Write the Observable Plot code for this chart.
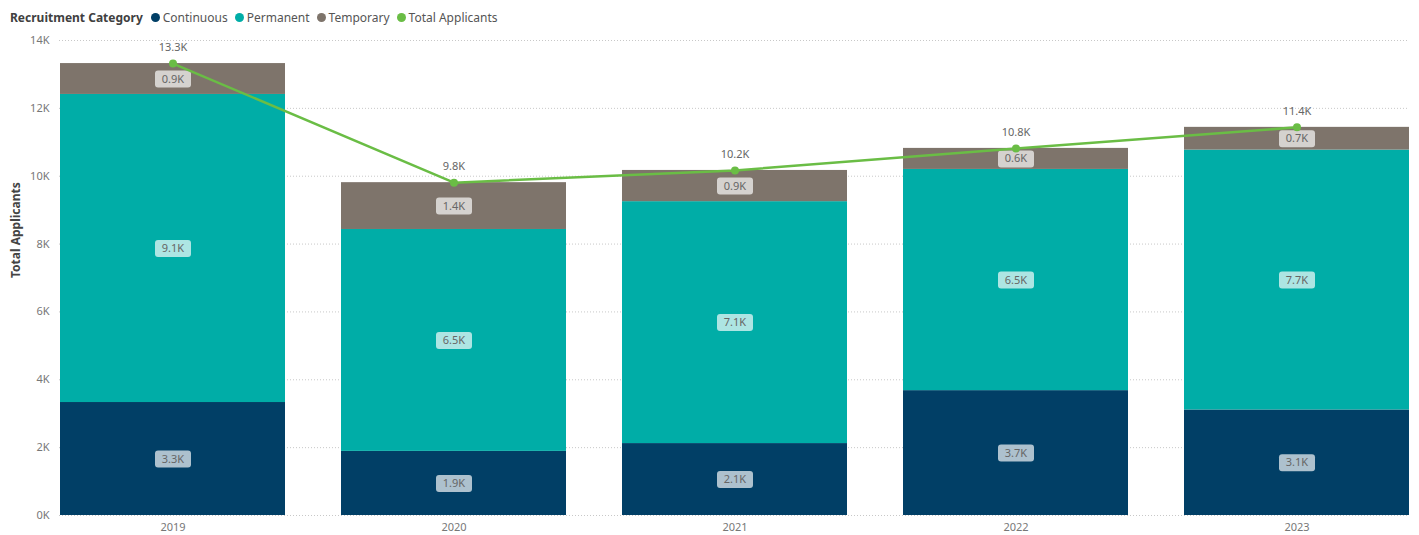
<!DOCTYPE html>
<html>
<head>
<meta charset="utf-8">
<script src="https://cdn.jsdelivr.net/npm/d3@7"></script>
<script src="https://cdn.jsdelivr.net/npm/@observablehq/plot@0.6"></script>
<style>
  body { margin: 0; background: #fff; font-family: "Segoe UI", "Noto Sans", sans-serif; }
  #legend { height: 30px; display: flex; align-items: center; padding-left: 10px; font-size: 12px; color: #555; box-sizing: border-box; padding-top: 4px; }
  #legend b { color: #404040; margin-right: 8px; }
  #legend span.item { display: inline-flex; align-items: center; margin-right: 7px; }
  #legend i { display: inline-block; width: 9px; height: 9px; border-radius: 50%; margin-right: 3px; }
  svg { display: block; }
</style>
</head>
<body>
<div id="legend"></div>
<div id="chart"></div>
<script>
const years = ["2019", "2020", "2021", "2022", "2023"];
const categories = ["Continuous", "Permanent", "Temporary"];
const continuous = [3330, 1890, 2120, 3680, 3110];
const permanent  = [9080, 6540, 7130, 6520, 7660];
const temporary  = [910, 1380, 920, 620, 670];
const colors = { Continuous: "#013f66", Permanent: "#00ada7", Temporary: "#7e746b", "Total Applicants": "#6abd45" };

const series = { Continuous: continuous, Permanent: permanent, Temporary: temporary };
const segs = [];
years.forEach((yr, i) => {
  let base = 0;
  for (const c of categories) {
    const v = series[c][i];
    segs.push({ year: yr, cat: c, value: v, y1: base, y2: base + v, mid: base + v / 2 });
    base += v;
  }
});
const totals = years.map((yr, i) => ({ year: yr, total: continuous[i] + permanent[i] + temporary[i] }));
const fmtK = v => (v / 1000).toFixed(1) + "K";

// legend
const lg = document.getElementById("legend");
lg.innerHTML = "<b>Recruitment Category</b>" +
  [...categories, "Total Applicants"].map(c => `<span class="item"><i style="background:${colors[c]}"></i>${c}</span>`).join("");

const roundBox = {
  draw(ctx) {
    const w = 36, h = 17, r = 3, x0 = -w / 2, y0 = -h / 2;
    ctx.moveTo(x0 + r, y0);
    ctx.lineTo(x0 + w - r, y0);
    ctx.arcTo(x0 + w, y0, x0 + w, y0 + r, r);
    ctx.lineTo(x0 + w, y0 + h - r);
    ctx.arcTo(x0 + w, y0 + h, x0 + w - r, y0 + h, r);
    ctx.lineTo(x0 + r, y0 + h);
    ctx.arcTo(x0, y0 + h, x0, y0 + h - r, r);
    ctx.lineTo(x0, y0 + r);
    ctx.arcTo(x0, y0, x0 + r, y0, r);
    ctx.closePath();
  }
};

const chart = Plot.plot({
  width: 1419,
  height: 505,
  marginTop: 10,
  marginBottom: 20,
  marginLeft: 59,
  marginRight: 10,
  style: { fontFamily: "'Segoe UI', 'Noto Sans', sans-serif", fontSize: "11px", color: "#777" },
  x: { domain: years, paddingInner: 0.2, paddingOuter: 0 },
  y: { domain: [0, 14000] },
  color: { domain: Object.keys(colors), range: Object.values(colors) },
  marks: [
    Plot.gridY({ ticks: d3.range(0, 14001, 2000), stroke: "#c8c8c8", strokeOpacity: 1, strokeDasharray: "1,2" }),
    Plot.axisY({ ticks: d3.range(0, 14001, 2000), tickFormat: d => d / 1000 + "K", tickSize: 0, tickPadding: 10, label: null, fill: "#777" }),
    Plot.axisX({ tickSize: 0, tickPadding: 8, label: null, fill: "#777" }),
    Plot.text(["Total Applicants"], { frameAnchor: "left", dx: -43, rotate: -90, fontWeight: "bold", fontSize: 12, fill: "#444" }),
    Plot.barY(segs, { x: "year", y1: "y1", y2: "y2", fill: "cat" }),
    Plot.dot(segs, { x: "year", y: "mid", symbol: roundBox, fill: "#fff", fillOpacity: 0.68, r: 5 }),
    Plot.text(segs, { x: "year", y: "mid", text: d => fmtK(d.value), fill: "#666", fontSize: 11 }),
    Plot.line(totals, { x: "year", y: "total", stroke: colors["Total Applicants"], strokeWidth: 2.5 }),
    Plot.dot(totals, { x: "year", y: "total", r: 4, fill: colors["Total Applicants"] }),
    Plot.text(totals, { x: "year", y: "total", text: d => fmtK(d.total), dy: -16, fill: "#666", fontSize: 11 })
  ]
});
document.getElementById("chart").appendChild(chart);
</script>
</body>
</html>
